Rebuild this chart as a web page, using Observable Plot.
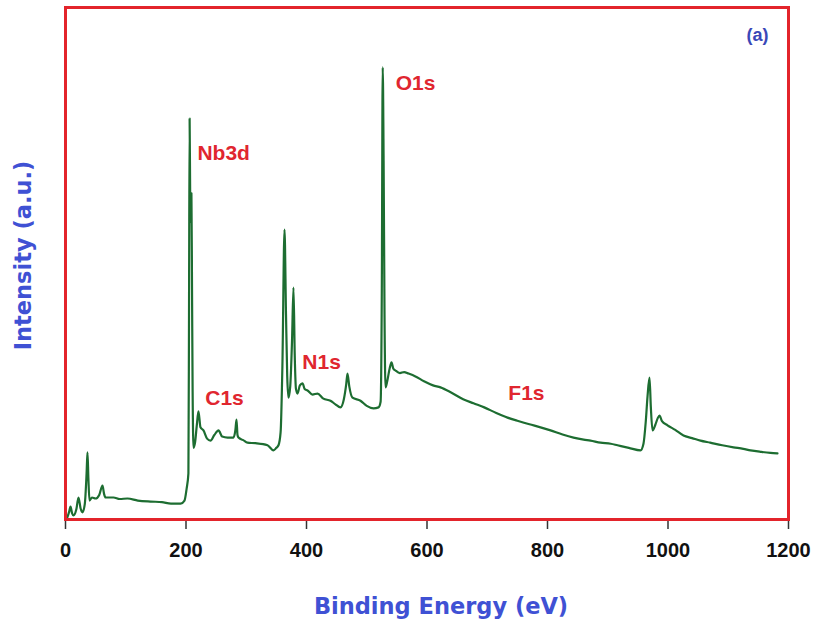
<!DOCTYPE html>
<html>
<head>
<meta charset="utf-8">
<script src="https://cdn.jsdelivr.net/npm/d3@7"></script>
<script src="https://cdn.jsdelivr.net/npm/@observablehq/plot@0.6"></script>
<style>
  html, body { margin: 0; padding: 0; background: #fff; }
  #chart { width: 815px; height: 626px; }
</style>
</head>
<body>
<div id="chart"></div>
<script>
// Binding energy (eV) of the survey spectrum samples
const energy = [
  3, 6, 8.3, 11, 13.3, 18, 21.6, 25, 28.2, 32, 35, 36.5, 38, 39.8, 44, 49.8, 56, 61.4, 64, 66.4,
  79.7, 90, 102.9, 120, 141, 160, 175, 190.9, 197.5, 201, 204, 205, 206, 207, 208, 209, 210, 211, 212.5,
  215, 218, 220.7, 224, 229, 235, 240.7, 247, 254, 260, 268.9, 278.8, 282, 283.8, 285.5, 287.1,
  295, 302, 315, 335.3, 345.2, 350, 353.5, 357, 360, 363.5, 366, 368, 370.1, 373, 376, 378.4,
  380.5, 382.5, 385.1, 389, 393.4, 397, 401.7, 410, 418.3, 428, 439.8, 448, 456.4, 462, 466, 468,
  471, 476.3, 489.6, 500, 511.2, 519.5, 523, 525, 526.5, 528, 529.5, 531.1, 534, 538, 541.1, 544,
  547.7, 555, 562, 569.3, 580, 595, 610, 622.4, 640, 660, 677.2, 695, 715, 733.6, 750, 770, 788.4,
  805, 825, 843.2, 860, 871.4, 888, 905, 916.2, 935, 954.4, 959.3, 963, 966, 969.3, 971.5, 974.3,
  979, 983, 985.9, 990, 999.2, 1012, 1025.7, 1040, 1053.9, 1070, 1090, 1108.7, 1125, 1136.9, 1155,
  1170, 1181.7
];
// Intensity (a.u.) at each energy
const intensity = [
  0.4, 1.5, 2.5, 1.2, 0.8, 2, 4.3, 2.2, 1.4, 3, 9, 13.1, 8, 3.7, 4.3, 4.1, 4.8, 6.6, 5, 4.3,
  4.3, 4.0, 4.1, 3.7, 3.5, 3.4, 3.1, 3.1, 3.7, 6, 9, 40, 78.3, 62, 58, 63.7, 45, 25, 14.0,
  15, 18.5, 21.1, 18, 17.4, 15.8, 15.4, 16.5, 17.4, 16.2, 16.0, 16.0, 17.5, 19.5, 16.5, 16.0,
  15.5, 15.0, 14.9, 14.5, 13.5, 14, 14.5, 17, 30, 56.6, 40, 28, 23.8, 26, 35, 45.3,
  32, 25.5, 24.6, 26.2, 26.6, 25.5, 25.2, 24.4, 24.6, 23.6, 23.2, 22.5, 21.9, 23.5, 26.5, 28.5,
  26, 23.8, 23.2, 22.2, 21.7, 21.9, 23, 45, 88.3, 70, 40, 25.8, 27, 29.5, 30.7, 29.5,
  29.1, 28.6, 28.8, 28.5, 28.0, 27, 26.2, 25.8, 24.8, 23.5, 22.7, 21.9, 20.8, 19.9, 19.3, 18.6, 18.0,
  17.4, 16.6, 16.0, 15.6, 15.4, 15.0, 14.8, 14.5, 14.0, 13.5, 14.8, 19, 24, 27.7, 22, 17.4,
  18.5, 19.8, 20.3, 19.2, 18.4, 17.5, 16.4, 15.9, 15.4, 15.0, 14.5, 14.1, 13.8, 13.5, 13.2,
  13.0, 12.9
];
// Peak annotations
const peakNames = ["Nb3d", "C1s", "N1s", "O1s", "F1s"];
const peakEnergy = [219, 232, 393, 548, 735];
const peakIntensity = [71.5, 23.6, 30.7, 85.2, 24.6];
const xTicks = [0, 200, 400, 600, 800, 1000, 1200];

const spectrum = energy.map((e, i) => ({energy: e, intensity: intensity[i]}));
const peaks = peakNames.map((n, i) => ({name: n, energy: peakEnergy[i], intensity: peakIntensity[i]}));

const titleFont = "'DejaVu Sans', 'Liberation Sans', sans-serif";

const chart = Plot.plot({
  width: 815,
  height: 626,
  marginLeft: 65,
  marginRight: 27,
  marginTop: 7,
  marginBottom: 107,
  style: {fontFamily: "'Liberation Sans', Arial, sans-serif", background: "#fff"},
  x: {domain: [0, 1200]},
  y: {domain: [0, 100], axis: null},
  marks: [
    Plot.axisX({
      ticks: xTicks,
      tickFormat: d => String(d),
      tickSize: 10,
      tickPadding: 13,
      fontSize: 20,
      fontWeight: "bold",
      stroke: "#333",
      strokeWidth: 1.5,
      color: "#111",
      label: null
    }),
    Plot.line(spectrum, {
      x: "energy", y: "intensity",
      stroke: "#1d6d31", strokeWidth: 2.2, curve: "monotone-x"
    }),
    Plot.text(peaks, {
      x: "energy", y: "intensity", text: "name",
      textAnchor: "start", fill: "#e0262f", fontSize: 21, fontWeight: "bold"
    }),
    Plot.text(["(a)"], {
      frameAnchor: "top-right", dx: -20, dy: 21,
      fill: "#3a48b8", fontSize: 18, fontWeight: "bold"
    }),
    Plot.text(["Binding Energy (eV)"], {
      frameAnchor: "bottom", dx: 14, dy: 94,
      fill: "#3f51d4", fontSize: 22.5, fontWeight: "bold", fontFamily: titleFont
    }),
    Plot.text(["Intensity (a.u.)"], {
      frameAnchor: "left", textAnchor: "middle", dx: -42, dy: -8, rotate: -90,
      fill: "#3f51d4", fontSize: 22.5, fontWeight: "bold", fontFamily: titleFont
    }),
    Plot.frame({stroke: "#e3242b", strokeWidth: 3})
  ]
});
document.getElementById("chart").appendChild(chart);
</script>
</body>
</html>
